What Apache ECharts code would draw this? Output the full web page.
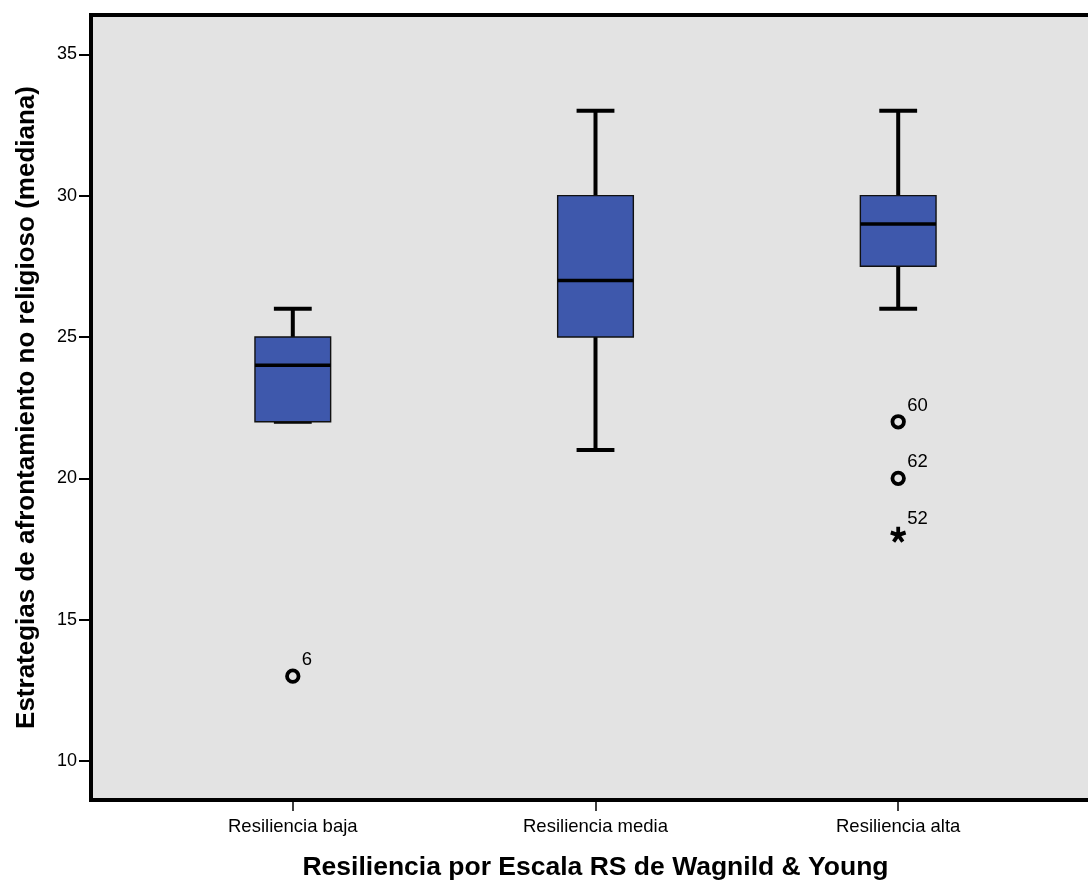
<!DOCTYPE html>
<html>
<head>
<meta charset="utf-8">
<script src="https://cdn.jsdelivr.net/npm/echarts@6/dist/echarts.min.js"></script>
<style>
html,body{margin:0;padding:0;background:#fff;}
#chart{width:1088px;height:882px;}
</style>
</head>
<body>
<div id="chart"></div>
<script>
// ---- data ----
const categories = ['Resiliencia baja', 'Resiliencia media', 'Resiliencia alta'];
const whiskerLow = [22, 21, 26];
const q1 = [22, 25, 27.5];
const median = [24, 27, 29];
const q3 = [25, 30, 30];
const whiskerHigh = [26, 33, 33];
const outlierCat = [0, 2, 2];
const outlierValues = [13, 22, 20];
const outlierIds = ['6', '60', '62'];
const extremeCat = [2];
const extremeValues = [18];
const extremeIds = ['52'];
const yTicks = [10, 15, 20, 25, 30, 35];

const FONT = '"Liberation Sans", Arial, Helvetica, sans-serif';

const boxData = categories.map((c, i) => [i + 1, whiskerLow[i], q1[i], median[i], q3[i], whiskerHigh[i]]);
const outlierData = outlierValues.map((v, i) => ({ value: [outlierCat[i] + 1, v], name: outlierIds[i] }));
const extremeData = extremeValues.map((v, i) => ({ value: [extremeCat[i] + 1, v], name: extremeIds[i] }));

// asterisk symbol path (5 arms)
function asteriskPath() {
  let parts = [];
  for (let k = 0; k < 5; k++) {
    const a = k * 72 * Math.PI / 180;
    const pts = [[-1.7, 0.8], [1.7, 0.8], [1.7, -7], [-1.7, -7]].map(([x, y]) => [
      (x * Math.cos(a) - y * Math.sin(a)).toFixed(3),
      (x * Math.sin(a) + y * Math.cos(a)).toFixed(3)
    ]);
    parts.push('M' + pts.map(p => p.join(' ')).join(' L') + ' Z');
  }
  return 'path://' + parts.join(' ');
}

function renderBox(params, api) {
  const x = api.value(0);
  const pLow = api.coord([x, api.value(1)]);
  const pQ1 = api.coord([x, api.value(2)]);
  const pMed = api.coord([x, api.value(3)]);
  const pQ3 = api.coord([x, api.value(4)]);
  const pHigh = api.coord([x, api.value(5)]);
  const boxW = api.size([0.25, 0])[0];
  const capW = boxW / 2;
  const cx = pMed[0];
  const lineStyle = { stroke: '#000', lineWidth: 4 };
  return {
    type: 'group',
    children: [
      { type: 'line', shape: { x1: cx, y1: pLow[1], x2: cx, y2: pQ1[1] }, style: lineStyle },
      { type: 'line', shape: { x1: cx, y1: pQ3[1], x2: cx, y2: pHigh[1] }, style: lineStyle },
      { type: 'line', shape: { x1: cx - capW / 2, y1: pLow[1], x2: cx + capW / 2, y2: pLow[1] }, style: lineStyle },
      { type: 'line', shape: { x1: cx - capW / 2, y1: pHigh[1], x2: cx + capW / 2, y2: pHigh[1] }, style: lineStyle },
      { type: 'rect', shape: { x: cx - boxW / 2, y: pQ3[1], width: boxW, height: pQ1[1] - pQ3[1] },
        style: { fill: '#3e58ac', stroke: '#111', lineWidth: 1.4 } },
      { type: 'line', shape: { x1: cx - boxW / 2, y1: pMed[1], x2: cx + boxW / 2, y2: pMed[1] }, style: { stroke: '#000', lineWidth: 3.5 } }
    ]
  };
}

const chart = echarts.init(document.getElementById('chart'), null, { renderer: 'canvas' });
const labelStyle = {
  show: true, position: 'inside', align: 'left', verticalAlign: 'middle',
  offset: [9, -16], formatter: p => p.name, color: '#000', fontSize: 18.5, fontFamily: FONT
};
chart.setOption({
  animation: false,
  backgroundColor: '#fff',
  grid: { left: 91, top: 15, right: -12, bottom: 82, show: true, backgroundColor: '#e3e3e3', borderColor: '#000', borderWidth: 4,
    containLabel: false, outerBoundsMode: 'none' },
  xAxis: {
    type: 'value', min: 1 / 3, max: 11 / 3,
    axisLine: { show: false },
    splitLine: { show: false },
    axisTick: { show: true, customValues: [1, 2, 3], length: 11, lineStyle: { color: '#000', width: 1.5 } },
    axisLabel: { customValues: [1, 2, 3], formatter: v => categories[Math.round(v) - 1], color: '#000', fontSize: 18.5, fontFamily: FONT, margin: 17 },
    name: 'Resiliencia por Escala RS de Wagnild & Young', nameLocation: 'middle', nameGap: 54,
    nameTextStyle: { color: '#000', fontSize: 26.5, fontWeight: 'bold', fontFamily: FONT }
  },
  yAxis: {
    type: 'value', min: 8.62, max: 36.39,
    axisLine: { show: false },
    splitLine: { show: false },
    axisTick: { show: true, customValues: yTicks, length: 12, lineStyle: { color: '#000', width: 2 } },
    axisLabel: { customValues: yTicks, color: '#000', fontSize: 18, fontFamily: FONT, margin: 14, padding: [5, 0, 0, 0] },
    name: 'Estrategias de afrontamiento no religioso (mediana)', nameLocation: 'middle', nameGap: 51,
    nameTextStyle: { color: '#000', fontSize: 26, fontWeight: 'bold', fontFamily: FONT }
  },
  series: [
    { type: 'custom', renderItem: renderBox, data: boxData, encode: { x: 0, y: [1, 2, 3, 4, 5] }, z: 2 },
    { type: 'scatter', data: outlierData, symbol: 'circle', symbolSize: 11.5,
      itemStyle: { color: 'rgba(0,0,0,0)', borderColor: '#000', borderWidth: 3.8, opacity: 1 }, label: labelStyle, z: 3 },
    { type: 'scatter', data: extremeData, symbol: asteriskPath(), symbolSize: 16,
      itemStyle: { color: '#000', opacity: 1 }, label: labelStyle, z: 3 }
  ]
});
</script>
</body>
</html>
